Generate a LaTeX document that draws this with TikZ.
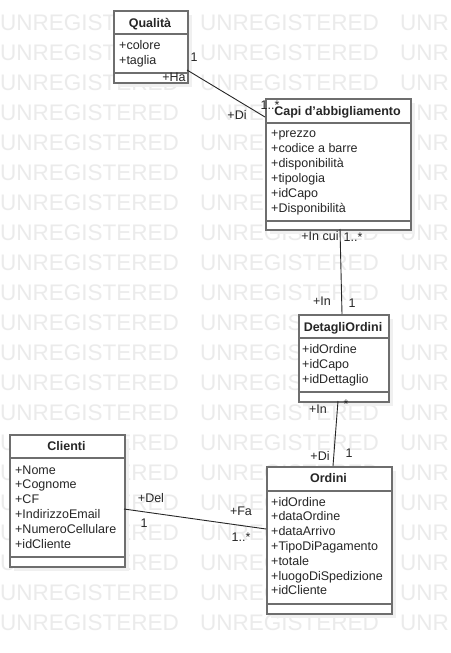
\documentclass[tikz,border=0pt]{standalone}
\usepackage{fontspec}
\setmainfont{Liberation Sans}
\usetikzlibrary{shadows}
\definecolor{wm}{HTML}{EBEBEB}
\definecolor{bordergray}{HTML}{6E6E6E}
\definecolor{shadowgray}{HTML}{F0F0F0}
\begin{document}
\begin{tikzpicture}[x=1pt,y=-1pt,
  umlbox/.style={draw=bordergray, line width=1.6pt, fill=white, anchor=north west, inner sep=0pt,
    general shadow={fill=shadowgray, shadow xshift=4pt, shadow yshift=-4pt}},
  sep/.style={draw=bordergray, line width=1.6pt},
  ttl/.style={font=\fontsize{12.5}{15}\selectfont\bfseries, inner sep=0pt, anchor=base, text=black!85},
  attr/.style={font=\fontsize{12.5}{15}\selectfont, inner sep=0pt, anchor=base west, text=black!85},
  lbl/.style={font=\fontsize{12.5}{15}\selectfont, inner sep=0pt, text=black!85},
  conn/.style={draw=black!85, line width=0.9pt},
  wmtext/.style={font=\fontsize{22.5}{25}\selectfont, text=wm, inner sep=0pt, anchor=base west}]
\useasboundingbox (0,0) rectangle (450,653);
\fill[white] (0,0) rectangle (450,653);
% watermark
\begin{scope}
\clip (0,0) rectangle (450,653);
\foreach \r in {0,...,20}{
  \node[wmtext] (wm\r a) at (0,{30+\r*30}) {UNREGISTERED};
  \node[wmtext] (wm\r b) at (200,{30+\r*30}) {UNREGISTERED};
  \node[wmtext] (wm\r c) at (400,{30+\r*30}) {UNR};
}
\end{scope}
% Qualita
\node[umlbox, minimum width=74pt, minimum height=72pt] (qual) at (113,10) {};
\draw[sep] (113,34) -- (187,34);
\draw[sep] (113,73) -- (187,73);
\node[ttl] (qualT) at (150,27.5) {Qualità};
\foreach \t [count=\i from 0] in {+colore,+taglia}
  \node[attr] (qa\i) at (119,{49+\i*15}) {\t};
% Capi
\node[umlbox, minimum width=145pt, minimum height=131pt] (capi) at (265,98) {};
\draw[sep] (265,123) -- (410,123);
\draw[sep] (265,221) -- (410,221);
\node[ttl] (capiT) at (337.5,115.5) {Capi d'abbigliamento};
\foreach \t [count=\i from 0] in {+prezzo,+codice a barre,+disponibilità,+tipologia,+idCapo,+Disponibilità}
  \node[attr] (ca\i) at (271,{137+\i*15}) {\t};
% DetagliOrdini
\node[umlbox, minimum width=90pt, minimum height=87pt] (det) at (298,314) {};
\draw[sep] (298,338) -- (388,338);
\draw[sep] (298,392) -- (388,392);
\node[ttl] (detT) at (343,331.5) {DetagliOrdini};
\foreach \t [count=\i from 0] in {+idOrdine,+idCapo,+idDettaglio}
  \node[attr] (da\i) at (302,{353+\i*15.4}) {\t};
% Clienti
\node[umlbox, minimum width=115pt, minimum height=132pt] (cli) at (9,434) {};
\draw[sep] (9,458) -- (124,458);
\draw[sep] (9,557) -- (124,557);
\node[ttl] (cliT) at (66.5,450.5) {Clienti};
\foreach \t [count=\i from 0] in {+Nome,+Cognome,+CF,+IndirizzoEmail,+NumeroCellulare,+idCliente}
  \node[attr] (cla\i) at (15,{474+\i*14.8}) {\t};
% Ordini
\node[umlbox, minimum width=125pt, minimum height=147pt] (ord) at (266,466) {};
\draw[sep] (266,491) -- (391,491);
\draw[sep] (266,604) -- (391,604);
\node[ttl] (ordT) at (328.5,482.5) {Ordini};
\foreach \t [count=\i from 0] in {+idOrdine,+dataOrdine,+dataArrivo,+TipoDiPagamento,+totale,+luogoDiSpedizione,+idCliente}
  \node[attr] (oa\i) at (271,{506+\i*14.8}) {\t};
% connectors
\coordinate (qR) at (187,70);
\coordinate (cL) at (265,117);
\draw[conn] (qR) -- (cL);
\coordinate (cB) at (340,229);
\coordinate (dT) at (342,314);
\draw[conn] (cB) -- (dT);
\coordinate (dB) at (338,401);
\coordinate (oT) at (333,466);
\draw[conn] (dB) -- (oT);
\coordinate (clR) at (124,509);
\coordinate (oL) at (266,529);
\draw[conn] (clR) -- (oL);
% labels
\node[lbl] (l1) at (194,57) {1};
\node[lbl] (l2) at (174,77) {+Ha};
\node[lbl] (l3) at (237,115) {+Di};
\node[lbl] (l4) at (270,105) {1..*};
\node[lbl] (l5) at (320,236) {+In cui};
\node[lbl] (l6) at (353,237) {1..*};
\node[lbl] (l7) at (322,301) {+In};
\node[lbl] (l8) at (352,303) {1};
\node[lbl] (l9) at (346,404) {*};
\node[lbl] (l10) at (318,409) {+In};
\node[lbl] (l11) at (320,456) {+Di};
\node[lbl] (l12) at (349,453) {1};
\node[lbl] (l13) at (151,498) {+Del};
\node[lbl] (l14) at (144,523) {1};
\node[lbl] (l15) at (241,511) {+Fa};
\node[lbl] (l16) at (241,537) {1..*};
\end{tikzpicture}
\end{document}
